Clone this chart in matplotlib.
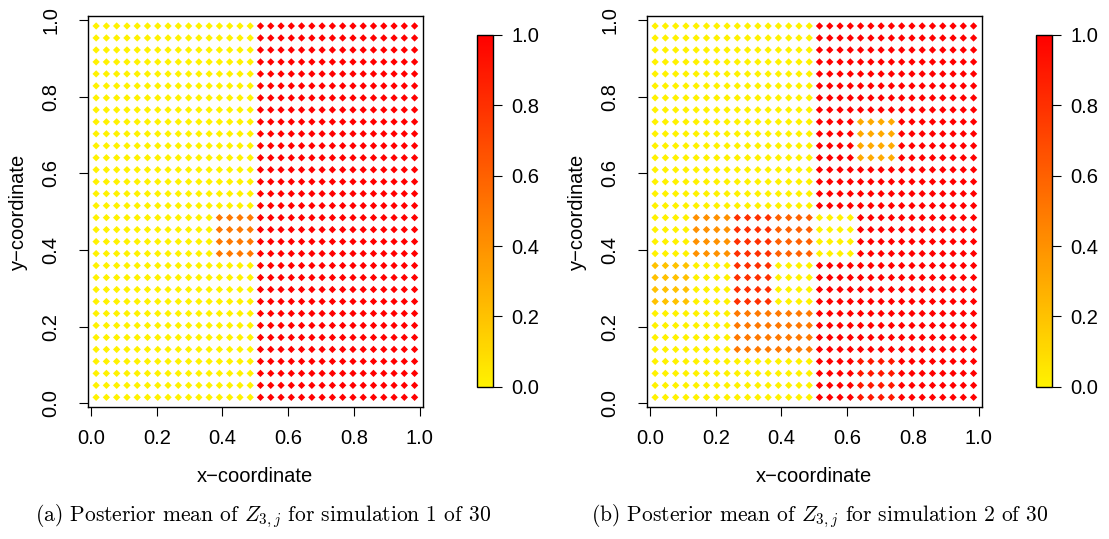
import numpy as np
import matplotlib.pyplot as plt
from matplotlib.colors import LinearSegmentedColormap

plt.rcParams["font.family"] = ["Liberation Sans", "DejaVu Sans"]
plt.rcParams["mathtext.fontset"] = "cm"

# Posterior mean of Z_{3,j} on a 32 x 32 grid of sites.
# One string per grid row, top row (y near 1) first, left to right in x.
# Digit d means d/10, "X" means 1.0.
LEVELS = {**{str(d): d / 10 for d in range(10)}, "X": 1.0}

SIM1_ROWS = (
    ["0" * 16 + "X" * 16] * 16
    + ["0" * 12 + "5555" + "X" * 16] * 4
    + ["0" * 16 + "X" * 16] * 12
)

SIM2_ROWS = (
    ["0" * 16 + "X" * 16] * 8
    + ["0" * 16 + "XXXX" + "3333" + "X" * 8] * 4
    + ["0" * 16 + "X" * 16] * 4
    + ["0000" + "4444" + "8888" + "6666" + "0000" + "X" * 12] * 4
    + ["2222" + "0000" + "8888" + "0000" + "X" * 16] * 4
    + ["0" * 8 + "5" * 8 + "X" * 16] * 4
    + ["0" * 16 + "XXXX" + "9999" + "X" * 8] * 4
)

CAPTIONS = [
    "(a) Posterior mean of $Z_{3,j}$ for simulation 1 of 30",
    "(b) Posterior mean of $Z_{3,j}$ for simulation 2 of 30",
]
TICKS = [0.0, 0.2, 0.4, 0.6, 0.8, 1.0]

W, H = 1109, 539
FS = 14.5
cmap = LinearSegmentedColormap.from_list("yellow_red", ["#FFF200", "#FF0000"])


def grid_values(rows):
    vals = np.array([[LEVELS[c] for c in row] for row in rows])
    n = vals.shape[0]
    centres = (np.arange(n) + 0.5) / n
    xx, yy = np.meshgrid(centres, centres[::-1])
    return xx.ravel(), yy.ravel(), vals.ravel()


def px_axes(fig, left, top, right, bottom):
    return fig.add_axes([left / W, 1 - bottom / H, (right - left) / W, (bottom - top) / H])


fig = plt.figure(figsize=(W / 100, H / 100), dpi=100)

for k, (rows, caption) in enumerate(zip([SIM1_ROWS, SIM2_ROWS], CAPTIONS)):
    dx = k * 559
    ax = px_axes(fig, 87.7 + dx, 16, 423 + dx, 407.3)
    x, y, z = grid_values(rows)
    sc = ax.scatter(x, y, c=z, cmap=cmap, vmin=0, vmax=1, marker="D", s=14, linewidths=0)
    ax.set_xlim(-0.01, 1.01)
    ax.set_ylim(-0.0104, 1.0104)
    ax.set_xticks(TICKS)
    ax.set_yticks(TICKS)
    ax.set_xticklabels([f"{t:.1f}" for t in TICKS])
    ax.set_yticklabels([f"{t:.1f}" for t in TICKS], rotation=90, va="center")
    ax.tick_params(axis="both", direction="out", length=6.5, width=0.8, labelsize=FS)
    ax.tick_params(axis="x", pad=9)
    ax.tick_params(axis="y", pad=13)
    for sp in ax.spines.values():
        sp.set_linewidth(1.0)
    ax.set_xlabel("x\u2212coordinate", fontsize=FS, va="center")
    ax.xaxis.set_label_coords(0.5, -0.178)
    ax.set_ylabel("y\u2212coordinate", fontsize=FS, va="center")
    ax.yaxis.set_label_coords(-0.205, 0.5)

    cax = px_axes(fig, 476.7 + dx, 35, 492.7 + dx, 386.7)
    cb = fig.colorbar(sc, cax=cax, ticks=TICKS)
    cb.ax.set_yticklabels([f"{t:.1f}" for t in TICKS])
    cb.ax.tick_params(direction="out", length=6.5, width=0.8, labelsize=FS, pad=7)
    cb.outline.set_linewidth(1.0)

    fig.text((263 + k * 557) / W, 1 - 516 / H, caption, family="cmr10",
             fontsize=15.5, ha="center", va="center")

fig.savefig("out.png", dpi=100)
